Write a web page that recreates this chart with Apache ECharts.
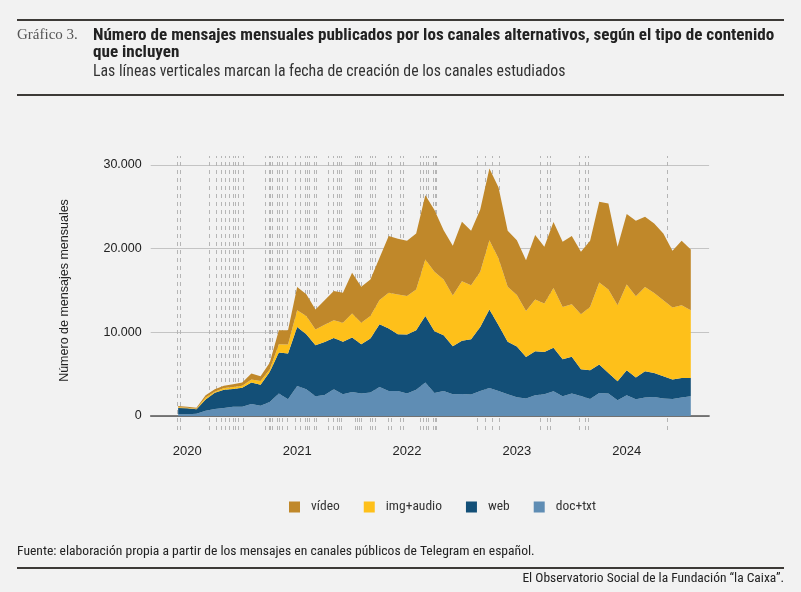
<!DOCTYPE html>
<html><head><meta charset="utf-8">
<script src="https://cdn.jsdelivr.net/npm/echarts@6/dist/echarts.min.js"></script>
<style>html,body{margin:0;padding:0;background:#f2f2f2;}#c{width:801px;height:592px;}</style>
</head><body><div id="c"></div>
<script>
// Axis months (Sep 2019 – Oct 2024); data runs Dec 2019 – Aug 2024
const months = ['2019-09','2019-10','2019-11','2019-12',
 '2020-01','2020-02','2020-03','2020-04','2020-05','2020-06','2020-07','2020-08','2020-09','2020-10','2020-11','2020-12',
 '2021-01','2021-02','2021-03','2021-04','2021-05','2021-06','2021-07','2021-08','2021-09','2021-10','2021-11','2021-12',
 '2022-01','2022-02','2022-03','2022-04','2022-05','2022-06','2022-07','2022-08','2022-09','2022-10','2022-11','2022-12',
 '2023-01','2023-02','2023-03','2023-04','2023-05','2023-06','2023-07','2023-08','2023-09','2023-10','2023-11','2023-12',
 '2024-01','2024-02','2024-03','2024-04','2024-05','2024-06','2024-07','2024-08','2024-09','2024-10'];
const N = null;
const docTxt = [N,N,N,200,200,280,640,840,960,1120,1120,1440,1240,1680,2680,2000,3590,3190,2360,2500,3190,2600,2880,2680,2800,3470,2990,2990,2680,3150,3990,2760,2990,2600,2640,2560,2990,3350,2990,2600,2230,2080,2480,2600,2950,2360,2680,2400,2040,2760,2680,1880,2480,2000,2200,2280,2080,2040,2200,2360,N,N];
const web = [N,N,N,760,720,520,1320,1950,2190,2110,2270,2550,2510,3590,4900,5460,7060,6580,6100,6350,6140,6260,6500,5900,6460,7500,7460,6780,7060,7100,7970,7380,6660,5740,6340,6620,7660,9370,7860,6260,6070,4980,5260,5060,5220,4430,4390,3190,3430,3390,2470,2270,2990,2590,3150,2870,2670,2310,2350,2190,N,N];
const imgAudio = [N,N,N,80,80,80,240,120,200,240,240,360,440,280,1000,1080,1990,2190,1870,2050,2120,2280,2870,2560,2680,2880,4270,4750,4590,4870,6740,7100,6660,6060,7140,6460,6580,8290,7980,6580,6150,5500,6180,5780,7130,6250,6300,6570,7570,9800,9960,9090,10240,9720,10080,9560,9090,8610,8690,8090,N,N];
const video = [N,N,N,160,120,120,280,280,280,320,360,720,560,800,1670,1710,2790,2590,2390,2940,3500,3590,4860,4300,4380,5060,6780,6660,6620,6700,7690,7370,5900,5940,7100,6500,7450,8570,8490,6700,6570,6070,7700,6780,7900,7780,8140,7460,7900,9650,10290,6980,8420,9020,8380,8300,7980,6780,7700,7260,N,N];
// Channel creation dates (vertical dashed lines)
const channelDates = ['2019-11-28','2019-12-07','2020-03-13','2020-04-05','2020-04-21','2020-05-07','2020-05-19','2020-05-31','2020-06-08','2020-06-17','2020-07-05',
 '2020-09-16','2020-09-29','2020-10-04','2020-10-09','2020-10-25','2020-11-02','2020-11-11','2020-11-27','2020-12-27',
 '2021-01-10','2021-01-27','2021-02-03','2021-02-09','2021-02-24','2021-03-04','2021-04-13','2021-04-28','2021-05-12','2021-05-21','2021-05-28',
 '2021-07-11','2021-07-18','2021-07-25','2021-07-31','2021-08-31','2021-09-07','2021-09-16','2021-10-31','2021-11-08','2021-12-10','2021-12-18',
 '2022-02-15','2022-02-23','2022-03-03','2022-03-12','2022-03-28','2022-04-03','2022-04-08',
 '2022-08-22','2022-09-17','2022-10-09','2022-11-03','2023-03-18','2023-04-09','2023-04-20','2023-07-25','2023-08-14','2023-08-26','2024-05-14'];
const yTicks = [0,10000,20000,30000];
const seriesNames = ['doc+txt','web','img+audio','vídeo'];
const seriesColors = ['#5f8db4','#134f77','#fec01a','#c0882a'];

const NARROW = "'Liberation Sans Narrow','Arial Narrow','Roboto Condensed','DejaVu Sans Condensed',sans-serif";
const SANS = "'Liberation Sans',Arial,Helvetica,sans-serif";

// position of a date on the month axis (index of its month + fraction of month)
function pos(s){
  const p = s.split('-').map(Number);
  const y = p[0], m = p[1], d = p[2] || 1;
  const dim = new Date(y, m, 0).getDate();
  const base = months.indexOf(p[0] + '-' + String(m).padStart(2,'0'));
  return base + (d-1)/dim;
}
function fmt(v){ return String(v).replace(/\B(?=(\d{3})+(?!\d))/g,'.'); }

const values = [docTxt, web, imgAudio, video];

const chart = echarts.init(document.getElementById('c'), null, {renderer:'canvas'});
const series = values.map((arr,k)=>({
  name: seriesNames[k], type:'line', stack:'total', z: 3,
  xAxisIndex:0, yAxisIndex:0,
  symbol:'none', showSymbol:false, connectNulls:false,
  lineStyle:{width:0}, itemStyle:{color:seriesColors[k]},
  areaStyle:{color:seriesColors[k], opacity:1},
  data: arr
}));
series.push({
  name:'lines', type:'line', xAxisIndex:1, yAxisIndex:1, z:1,
  data:[[0,0]], symbol:'none', lineStyle:{opacity:0}, silent:true,
  markLine:{ z:1, symbol:['none','none'], silent:true, animation:false,
    label:{show:false},
    lineStyle:{type:[4,4], color:'#b5b5b5', width:1},
    data: channelDates.map(d=>({xAxis: pos(d)}))
  }
});

const L = 150.7, R = 801-709.1;
chart.setOption({
  animation:false,
  backgroundColor:'#f2f2f2',
  grid:[
    {left:L, right:R, top:165, bottom:176},
    {left:L, right:R, top:156, bottom:162}
  ],
  xAxis:[
    {type:'category', gridIndex:0, data:months, boundaryGap:false,
     splitLine:{show:false}, axisTick:{show:false},
     axisLine:{show:true, lineStyle:{color:'#555', width:1.5}},
     axisLabel:{interval:(i,v)=>v.endsWith('-01'), formatter:v=>v.slice(0,4),
       margin:29, color:'#222', fontSize:13, fontFamily:SANS}},
    {type:'value', gridIndex:1, min:0, max:months.length-1, show:false}
  ],
  yAxis:[
    {type:'value', gridIndex:0, min:yTicks[0], max:yTicks[yTicks.length-1], interval:yTicks[1]-yTicks[0],
     axisLine:{show:false}, axisTick:{show:false},
     splitLine:{lineStyle:{color:'#c4c4c4', width:1}},
     axisLabel:{formatter:v=>fmt(v), color:'#222', fontSize:12.5, margin:9, fontFamily:SANS},
     name:'Número de mensajes mensuales', nameLocation:'middle', nameGap:80, nameRotate:90,
     nameTextStyle:{color:'#222', fontSize:12.5, fontFamily:SANS}},
    {type:'value', gridIndex:1, min:0, max:1, show:false}
  ],
  legend:{
    data:['vídeo','img+audio','web','doc+txt'],
    left:284, top:495, icon:'rect', itemWidth:11, itemHeight:11, itemGap:24,
    textStyle:{color:'#333', fontSize:13.5, fontFamily:NARROW, padding:[0,0,0,6]},
    selectedMode:false
  },
  graphic:[
    {type:'line', shape:{x1:17,y1:20,x2:784,y2:20}, style:{stroke:'#3d3a37', lineWidth:2}},
    {type:'line', shape:{x1:17,y1:95,x2:784,y2:95}, style:{stroke:'#3d3a37', lineWidth:2}},
    {type:'line', shape:{x1:17,y1:568,x2:784,y2:568}, style:{stroke:'#3d3a37', lineWidth:2}},
    {type:'text', left:17, top:28, style:{text:'Gráfico 3.', fill:'#555', font:"15px 'Liberation Serif','DejaVu Serif',serif"}},
    {type:'text', left:93, top:27, style:{text:'Número de mensajes mensuales publicados por los canales alternativos, según el tipo de contenido', fill:'#222', font:"bold 17.1px "+NARROW}},
    {type:'text', left:93, top:44, style:{text:'que incluyen', fill:'#222', font:"bold 17.1px "+NARROW}},
    {type:'text', left:93, top:64, style:{text:'Las líneas verticales marcan la fecha de creación de los canales estudiados', fill:'#333', font:"15.8px "+NARROW}},
    {type:'text', left:17, top:545, style:{text:'Fuente: elaboración propia a partir de los mensajes en canales públicos de Telegram en español.', fill:'#222', font:"13.6px "+NARROW}},
    {type:'text', right:17, top:572, style:{text:'El Observatorio Social de la Fundación “la Caixa”.', fill:'#222', font:"13.5px "+NARROW}}
  ],
  series: series
});
</script></body></html>
